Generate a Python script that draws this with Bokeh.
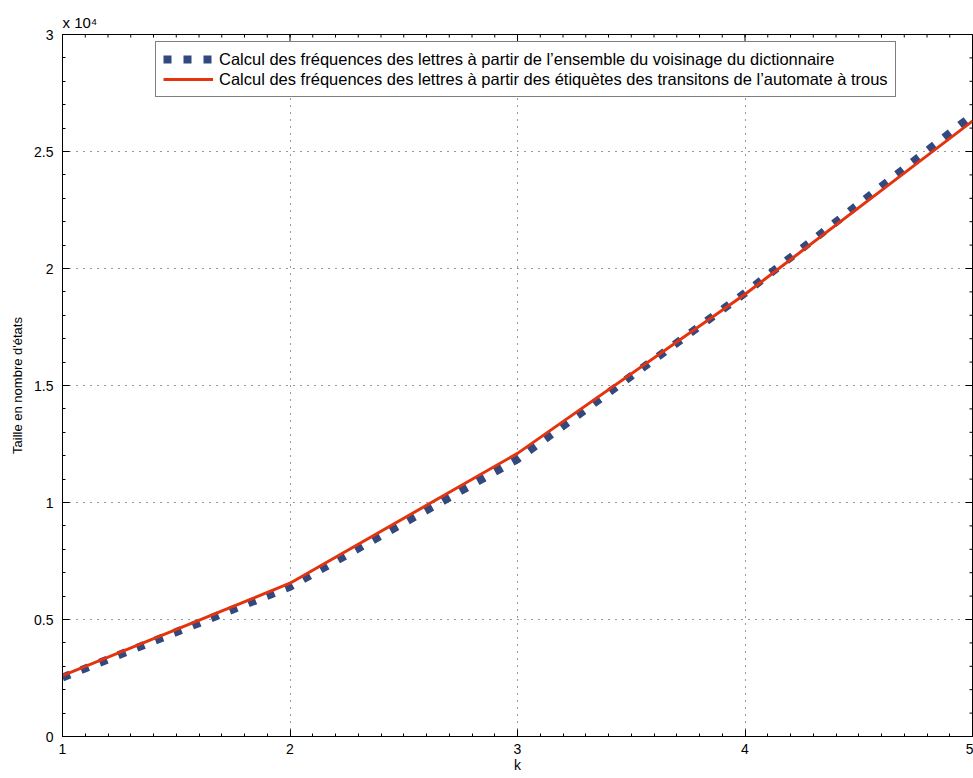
import math
from bokeh.plotting import figure
from bokeh.models import (Range1d, FixedTicker, Legend, LegendItem, Title)
from bokeh.embed import file_html
from bokeh.resources import INLINE

k = [1, 2, 3, 4, 5]
freq_voisinage = [2520, 6400, 11850, 18950, 26550]
freq_automate = [2600, 6550, 12100, 18900, 26300]
y_ticks = [0, 5000, 10000, 15000, 20000, 25000, 30000]
y_tick_labels = ["0", "0.5", "1", "1.5", "2", "2.5", "3"]
x_ticks = [1, 2, 3, 4, 5]
y_minor = [i * 1000 for i in range(31)]
x_minor = [1 + i * 0.1 for i in range(41)]
label_1 = "Calcul des fréquences des lettres à partir de l’ensemble du voisinage du dictionnaire"
label_2 = "Calcul des fréquences des lettres à partir des étiquètes des transitons de l’automate à trous"

FONT = "Liberation Sans"
X0, X1 = 1, 5
Y0, Y1 = 0, 30000

p = figure(frame_width=910, frame_height=702, output_backend="svg", toolbar_location=None,
           x_range=Range1d(X0, X1), y_range=Range1d(Y0, Y1),
           min_border_left=62, min_border_right=1, min_border_top=34, min_border_bottom=42)
p.outline_line_color = "black"
p.outline_line_width = 1
p.background_fill_color = "white"
p.border_fill_color = "white"

p.title = Title(text="x 10\u2074", text_font=FONT, text_font_size="15px",
                text_font_style="normal", text_color="black", align="left", standoff=8)

p.xaxis.ticker = FixedTicker(ticks=x_ticks, minor_ticks=x_minor)
p.yaxis.ticker = FixedTicker(ticks=y_ticks, minor_ticks=y_minor)
p.yaxis.major_label_overrides = {t: l for t, l in zip(y_ticks, y_tick_labels)}
p.xaxis.axis_label = "k"
p.yaxis.axis_label = "Taille en nombre d'états"

for ax in [p.xaxis[0], p.yaxis[0]]:
    ax.axis_line_color = "black"
    ax.axis_line_width = 1
    ax.major_tick_in = 7
    ax.major_tick_out = 0
    ax.minor_tick_in = 3
    ax.minor_tick_out = 0
    ax.major_tick_line_color = "black"
    ax.minor_tick_line_color = "black"
    ax.major_label_text_font = FONT
    ax.major_label_text_font_size = "14px"
    ax.major_label_text_color = "black"
    ax.axis_label_text_font = FONT
    ax.axis_label_text_font_style = "normal"
    ax.axis_label_text_color = "black"
p.xaxis.major_label_standoff = 7
p.yaxis.major_label_standoff = 9
p.xaxis.axis_label_text_font_size = "14px"
p.yaxis.axis_label_text_font_size = "13px"
p.xaxis.axis_label_standoff = 0
p.yaxis.axis_label_standoff = 6

p.xgrid.ticker = FixedTicker(ticks=x_ticks)
p.ygrid.ticker = FixedTicker(ticks=y_ticks)
for g in [p.xgrid[0], p.ygrid[0]]:
    g.grid_line_color = "#333333"
    g.grid_line_dash = "1 6"
    g.grid_line_width = 1

# inward ticks on the right and top edges of the box (half of each dash is clipped by the frame)
p.scatter([X1] * len(y_ticks), y_ticks, marker="dash", size=14, line_color="black", line_width=1)
p.scatter([X1] * len(y_minor), y_minor, marker="dash", size=6, line_color="black", line_width=1)
p.scatter(x_ticks, [Y1] * len(x_ticks), marker="dash", size=14, angle=math.pi / 2,
          line_color="black", line_width=1)
p.scatter(x_minor, [Y1] * len(x_minor), marker="dash", size=6, angle=math.pi / 2,
          line_color="black", line_width=1)

r1 = p.line(k, freq_voisinage, line_color="#31497F", line_width=8, line_dash="8 12", line_cap="butt")
r2 = p.line(k, freq_automate, line_color="#E5330E", line_width=3)

legend = Legend(items=[LegendItem(label=label_1, renderers=[r1]),
                       LegendItem(label=label_2, renderers=[r2])],
                location=(93, 639))
legend.border_line_color = "black"
legend.border_line_width = 1
legend.label_text_font = FONT
legend.label_text_font_size = "16.5px"
legend.label_text_color = "black"
legend.glyph_width = 50
legend.glyph_height = 20
legend.label_height = 20
legend.spacing = 0
legend.padding = 7
legend.margin = 0
legend.label_standoff = 6
legend.background_fill_alpha = 1
p.add_layout(legend, "center")

open("out.html", "w").write(file_html(p, INLINE))
